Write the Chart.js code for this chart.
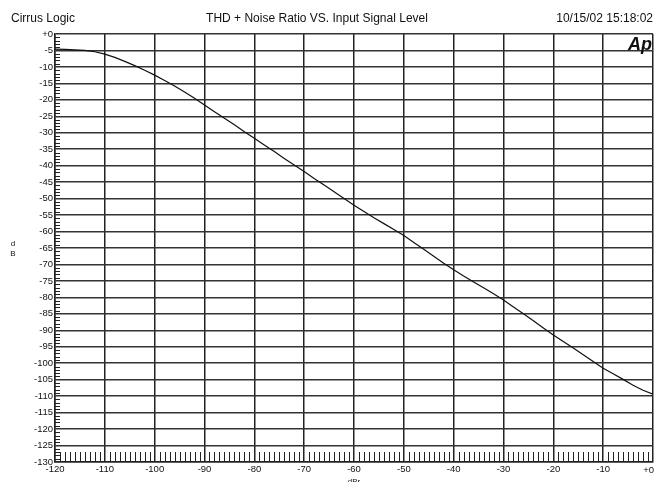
<!DOCTYPE html>
<html>
<head>
<meta charset="utf-8">
<script src="https://cdn.jsdelivr.net/npm/chart.js@4"></script>
<style>
  html, body { margin: 0; padding: 0; background: #fff; }
  #wrap { width: 656px; height: 482px; }
</style>
</head>
<body>
<div id="wrap"><canvas id="thdChart" width="656" height="482"></canvas></div>
<script>
// ===== Data =====
const inputLevel = [-120, -118, -116, -114, -112, -110, -108, -106, -104, -102,
  -100, -98, -96, -94, -92, -90, -88, -86, -84, -82,
  -80, -78, -76, -74, -72, -70, -68, -66, -64, -62,
  -60, -58, -56, -54, -52, -50, -48, -46, -44, -42,
  -40, -38, -36, -34, -32, -30, -28, -26, -24, -22,
  -20, -18, -16, -14, -12, -10, -8, -6, -4, -2, 0];
const thdNoise = [-4.6, -4.7, -4.8, -5.0, -5.4, -6.1, -7.1, -8.3, -9.6, -11.0,
  -12.5, -14.1, -15.8, -17.6, -19.5, -21.6, -23.6, -25.6, -27.6, -29.7,
  -31.7, -33.7, -35.7, -37.8, -39.8, -41.8, -43.9, -45.9, -47.9, -50.0,
  -52.0, -53.9, -55.8, -57.6, -59.4, -61.2, -63.3, -65.4, -67.5, -69.6,
  -71.6, -73.5, -75.3, -77.1, -78.9, -80.8, -82.9, -85.0, -87.1, -89.3,
  -91.4, -93.4, -95.4, -97.4, -99.5, -101.5, -103.2, -104.9, -106.7, -108.2, -109.4];

const xRange = [-120, 0];
const yRange = [-130, 0];
const headerLeft = "Cirrus Logic";
const headerTitle = "THD + Noise Ratio VS. Input Signal Level";
const headerDate = "10/15/02 15:18:02";
const xTitle = "dBr";
const yTitle = ["d", "B"];

const FONT = "'Liberation Sans', Arial, sans-serif";
const fmt = v => (v === 0 ? "+0" : String(v));

// ===== Extra drawing: header, minor ticks, logo, axis titles =====
const decorations = {
  id: "decorations",
  afterDraw(chart) {
    const { ctx, chartArea: a, scales: { x, y } } = chart;
    ctx.save();

    // minor ticks
    ctx.strokeStyle = "#222";
    ctx.lineWidth = 1;
    ctx.beginPath();
    for (let v = yRange[0] + 1; v < yRange[1]; v++) {
      if (v % 5 === 0) continue;
      const py = Math.round(y.getPixelForValue(v)) + 0.5;
      ctx.moveTo(a.left, py);
      ctx.lineTo(a.left + 5, py);
    }
    for (let v = xRange[0] + 1; v < xRange[1]; v++) {
      if (v % 10 === 0) continue;
      const px = Math.round(x.getPixelForValue(v)) + 0.5;
      ctx.moveTo(px, a.bottom);
      ctx.lineTo(px, a.bottom - 10);
    }
    ctx.stroke();

    // last x label kept inside the canvas, like the original
    ctx.fillStyle = "#111";
    ctx.font = "9.5px " + FONT;
    ctx.textAlign = "right";
    ctx.textBaseline = "middle";
    ctx.fillText(fmt(xRange[1]), x.getPixelForValue(xRange[1]) + 1, a.bottom + 8);

    // header
    ctx.font = "12px " + FONT;
    ctx.textBaseline = "alphabetic";
    ctx.textAlign = "left";
    ctx.fillText(headerLeft, 11, 22);
    ctx.textAlign = "center";
    ctx.fillText(headerTitle, 317, 22);
    ctx.textAlign = "right";
    ctx.fillText(headerDate, 653, 22);

    // Ap logo
    ctx.font = "italic bold 18px " + FONT;
    ctx.textAlign = "right";
    ctx.fillText("Ap", 652, 50);

    // axis titles
    ctx.font = "8px " + FONT;
    ctx.textAlign = "center";
    ctx.fillText(yTitle[0], 13, 246);
    ctx.fillText(yTitle[1], 13, 256);
    ctx.fillText(xTitle, 354, 484);

    ctx.restore();
  }
};

new Chart(document.getElementById("thdChart"), {
  type: "line",
  data: {
    datasets: [{
      data: inputLevel.map((v, i) => ({ x: v, y: thdNoise[i] })),
      borderColor: "#111",
      borderWidth: 1.2,
      pointRadius: 0,
      tension: 0,
      fill: false
    }]
  },
  options: {
    responsive: false,
    animation: false,
    layout: { padding: { left: 0, right: 3, top: 34, bottom: 0 } },
    plugins: { legend: { display: false }, tooltip: { enabled: false } },
    scales: {
      x: {
        type: "linear",
        min: xRange[0],
        max: xRange[1],
        afterFit: s => { s.height = 20; s.paddingLeft = 0; s.paddingRight = 0; },
        grid: { color: "#222", lineWidth: 1.5, drawTicks: false },
        border: { color: "#222", width: 1.5 },
        ticks: {
          stepSize: 10,
          padding: 2,
          color: "#111",
          maxRotation: 0,
          autoSkip: false,
          font: { family: FONT, size: 9.5 },
          // "+0" is drawn by the plugin so it is not clipped
          callback: v => (v === xRange[1] ? "" : fmt(v))
        }
      },
      y: {
        type: "linear",
        min: yRange[0],
        max: yRange[1],
        afterFit: s => { s.width = 55; s.paddingTop = 0; s.paddingBottom = 0; },
        grid: { color: "#333", lineWidth: 1.5, drawTicks: false },
        border: { color: "#222", width: 1.5 },
        ticks: {
          stepSize: 5,
          padding: 2,
          color: "#111",
          autoSkip: false,
          font: { family: FONT, size: 9.5 },
          callback: fmt
        }
      }
    }
  },
  plugins: [decorations]
});
</script>
</body>
</html>
